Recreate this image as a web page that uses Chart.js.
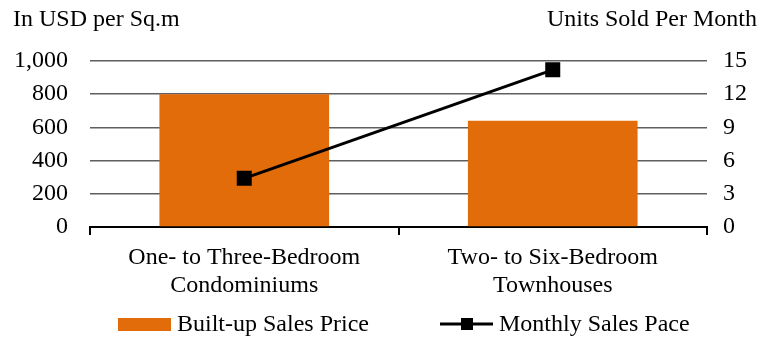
<!DOCTYPE html>
<html>
<head>
<meta charset="utf-8">
<script src="https://cdn.jsdelivr.net/npm/chart.js@4"></script>
<style>
  html, body { margin: 0; padding: 0; background: #fff; }
  #wrap { width: 771px; height: 337px; position: relative; }
</style>
</head>
<body>
<div id="wrap"><canvas id="chart" width="771" height="337"></canvas></div>
<script>
// Data
const categories = [
    ['One- to Three-Bedroom', 'Condominiums'],
    ['Two- to Six-Bedroom', 'Townhouses']
];
const salesPrice = [800, 640];      // USD per sq.m
const salesPace = [4.4, 14.2];      // units sold per month
const leftTicks = [0, 200, 400, 600, 800, 1000];
const rightTicks = [0, 3, 6, 9, 12, 15];

const FONT = "'Liberation Serif', serif";
const FONT_SIZE = 24;
const ORANGE = '#E36C0A';

// Axis titles above the plot
const titlesPlugin = {
    id: 'axisTitles',
    afterDraw(chart) {
        const ctx = chart.ctx;
        ctx.save();
        ctx.fillStyle = '#000';
        ctx.font = FONT_SIZE + 'px ' + FONT;
        ctx.textBaseline = 'middle';
        ctx.textAlign = 'left';
        ctx.fillText('In USD per Sq.m', 13, 20);
        ctx.textAlign = 'right';
        ctx.fillText('Units Sold Per Month', 757, 20);
        ctx.restore();
    }
};

// Legend drawn by hand so the line entry gets a line + square marker
const legendPlugin = {
    id: 'customLegend',
    afterDraw(chart) {
        const ctx = chart.ctx;
        const y = 324;
        const bars = chart.data.datasets.find(d => d.type !== 'line');
        const line = chart.data.datasets.find(d => d.type === 'line');
        ctx.save();
        ctx.font = FONT_SIZE + 'px ' + FONT;
        ctx.textBaseline = 'middle';
        ctx.textAlign = 'left';
        ctx.fillStyle = ORANGE;
        ctx.fillRect(118, y - 6, 53, 13);
        ctx.fillStyle = '#000';
        ctx.fillText(bars.label, 177, y + 1);

        ctx.strokeStyle = '#000';
        ctx.lineWidth = 3;
        ctx.beginPath();
        ctx.moveTo(440, y);
        ctx.lineTo(493, y);
        ctx.stroke();
        ctx.fillRect(461, y - 6, 12, 12);
        ctx.fillText(line.label, 499, y + 1);
        ctx.restore();
    }
};

new Chart(document.getElementById('chart'), {
    type: 'bar',
    data: {
        labels: categories,
        datasets: [
            {
                type: 'line',
                label: 'Monthly Sales Pace',
                data: salesPace,
                yAxisID: 'y1',
                borderColor: '#000',
                backgroundColor: '#000',
                borderWidth: 3,
                pointStyle: 'rect',
                pointRadius: 8.5,
                pointHoverRadius: 8.5,
                order: 0
            },
            {
                label: 'Built-up Sales Price',
                data: salesPrice,
                yAxisID: 'y',
                backgroundColor: ORANGE,
                categoryPercentage: 1,
                barPercentage: 0.55,
                order: 1
            }
        ]
    },
    options: {
        responsive: false,
        animation: false,
        layout: { padding: { top: 61, bottom: 0, left: 0, right: 0 } },
        plugins: {
            legend: { display: false },
            tooltip: { enabled: false }
        },
        scales: {
            x: {
                offset: true,
                grid: {
                    display: true,
                    drawOnChartArea: false,
                    offset: true,
                    color: '#000',
                    tickLength: 8,
                    lineWidth: 2
                },
                border: { display: true, color: '#000', width: 2 },
                ticks: {
                    color: '#000',
                    font: { family: FONT, size: FONT_SIZE },
                    padding: 8,
                    maxRotation: 0
                },
                afterFit(scale) { scale.height = 110; }
            },
            y: {
                position: 'left',
                min: 0,
                max: 1000,
                afterBuildTicks(scale) { scale.ticks = leftTicks.map(v => ({ value: v })); },
                grid: { color: '#5f5f5f', lineWidth: 1.5, drawTicks: false },
                border: { display: false },
                ticks: {
                    color: '#000',
                    font: { family: FONT, size: FONT_SIZE },
                    padding: 22,
                    callback: v => v.toLocaleString('en-US')
                },
                afterFit(scale) { scale.width = 90; }
            },
            y1: {
                position: 'right',
                min: 0,
                max: 15,
                afterBuildTicks(scale) { scale.ticks = rightTicks.map(v => ({ value: v })); },
                grid: { display: false, drawTicks: false },
                border: { display: false },
                ticks: {
                    color: '#000',
                    font: { family: FONT, size: FONT_SIZE },
                    padding: 16
                },
                afterFit(scale) { scale.width = 64; }
            }
        }
    },
    plugins: [titlesPlugin, legendPlugin]
});
</script>
</body>
</html>
